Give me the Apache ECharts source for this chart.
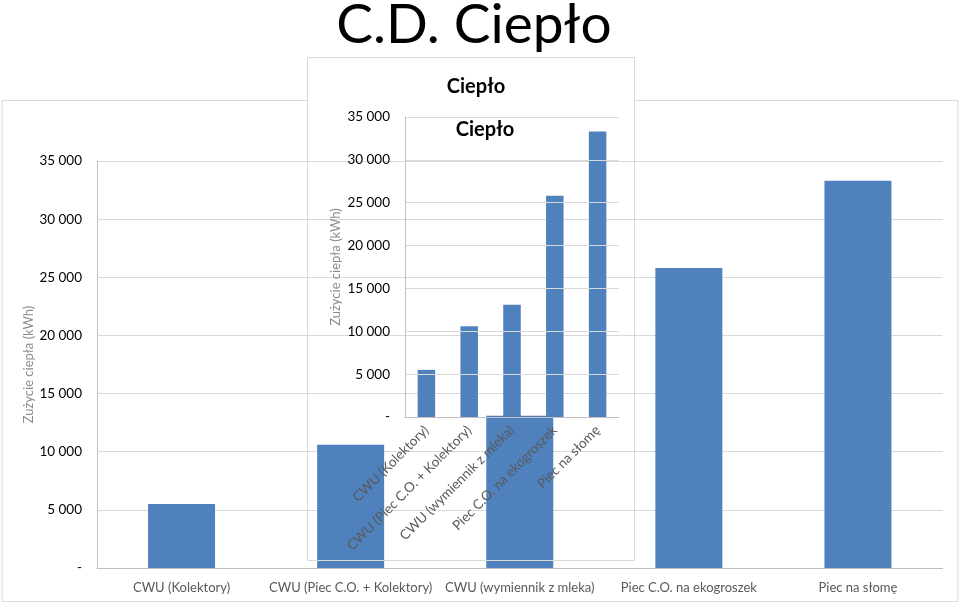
<!DOCTYPE html>
<html><head><meta charset="utf-8">
<script src="https://cdn.jsdelivr.net/npm/echarts@6/dist/echarts.min.js"></script>
<style>html,body{margin:0;padding:0;background:#fff}#c{width:959px;height:608px}</style>
</head><body><div id="c"></div>
<script>
const categories = ['CWU (Kolektory)', 'CWU (Piec C.O. + Kolektory)', 'CWU (wymiennik z mleka)', 'Piec C.O. na ekogroszek', 'Piec na słomę'];
const heatUse = [5500, 10600, 13100, 25800, 33300];
const insetHeatUse = [5500, 10600, 13100, 25800, 33300];
const yTicks = [0, 5000, 10000, 15000, 20000, 25000, 30000, 35000];
const pageTitle = 'C.D. Ciepło';
const chartTitle = 'Ciepło';
const axisTitle = 'Zużycie ciepła (kWh)';

const F = 'Lato';
const fmt = v => v === 0 ? '-' : String(v).replace(/\B(?=(\d{3})+(?!\d))/g, ' ');
const chart = echarts.init(document.getElementById('c'), null, {renderer: 'canvas'});
chart.setOption({
  backgroundColor: '#fff',
  animation: false,
  textStyle: {fontFamily: F},
  title: [
    {text: pageTitle, left: 469, textAlign: 'center', top: -7,
     textStyle: {fontFamily: F, fontSize: 55, fontWeight: 'normal', color: '#000'}},
    {text: chartTitle, left: 471, textAlign: 'center', top: 72,
     textStyle: {fontFamily: F, fontSize: 20, fontWeight: 'bold', color: '#000'}},
    {text: chartTitle, left: 480, textAlign: 'center', top: 115,
     textStyle: {fontFamily: F, fontSize: 20, fontWeight: 'bold', color: '#000'}}
  ],
  graphic: [
    {type: 'rect', shape: {x: 2, y: 100.5, width: 956, height: 501}, style: {fill: 'none', stroke: '#d9d9d9', lineWidth: 1}, z: 0, silent: true},
    {type: 'line', shape: {x1: 308, y1: 100.5, x2: 634, y2: 100.5}, style: {stroke: '#fff', lineWidth: 2}, z: 1, silent: true},
    {type: 'rect', shape: {x: 307.5, y: 57.5, width: 327, height: 503}, style: {fill: 'none', stroke: '#d9d9d9', lineWidth: 1}, z: 50, silent: true}
  ],
  grid: [
    {left: 97, right: 16.5, top: 161, bottom: 40, containLabel: false},
    {left: 405, right: 340, top: 117, bottom: 191, containLabel: false}
  ],
  xAxis: [
    {type: 'category', gridIndex: 0, data: categories,
     axisLine: {lineStyle: {color: '#bfbfbf'}}, axisTick: {show: false},
     axisLabel: {color: '#595959', fontSize: 13, margin: 13, interval: 0, fontFamily: F}},
    {type: 'category', gridIndex: 1, data: categories,
     axisLine: {lineStyle: {color: '#bfbfbf'}}, axisTick: {show: false}, z: 60,
     axisLabel: {color: '#595959', fontSize: 13.5, margin: 11, rotate: 45, interval: 0, fontFamily: F}}
  ],
  yAxis: [
    {type: 'value', gridIndex: 0, min: 0, max: 35000, interval: 5000,
     name: axisTitle, nameLocation: 'middle', nameGap: 62, nameRotate: 90, nameMoveOverlap: false,
     nameTextStyle: {color: '#8c8c8c', fontSize: 13, fontFamily: F},
     axisLine: {show: true, lineStyle: {color: '#bfbfbf'}}, axisTick: {show: false},
     splitLine: {lineStyle: {color: '#d9d9d9'}},
     axisLabel: {color: '#000', fontSize: 13.5, margin: 15, formatter: fmt, fontFamily: F}},
    {type: 'value', gridIndex: 1, min: 0, max: 35000, interval: 5000,
     name: axisTitle, nameLocation: 'middle', nameGap: 63, nameRotate: 90,
     nameTextStyle: {color: '#8c8c8c', fontSize: 13, fontFamily: F},
     axisLine: {show: true, lineStyle: {color: '#bfbfbf'}}, axisTick: {show: false},
     splitLine: {lineStyle: {color: '#d9d9d9'}}, z: 60,
     axisLabel: {color: '#000', fontSize: 13.5, margin: 15, formatter: fmt, fontFamily: F}}
  ],
  series: [
    {type: 'bar', xAxisIndex: 0, yAxisIndex: 0, data: heatUse, barWidth: 67,
     itemStyle: {color: '#4f81bd'}, z: 2},
    {type: 'bar', xAxisIndex: 1, yAxisIndex: 1, data: insetHeatUse, barWidth: 17.5,
     itemStyle: {color: '#4f81bd'}, z: 3}
  ]
});
</script></body></html>
